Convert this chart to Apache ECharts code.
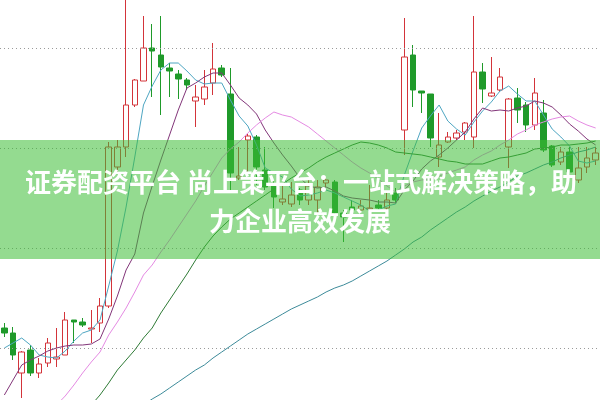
<!DOCTYPE html>
<html><head><meta charset="utf-8">
<script src="https://cdn.jsdelivr.net/npm/echarts@6/dist/echarts.min.js"></script>
<style>html,body{margin:0;padding:0;background:#fff}#c{width:600px;height:400px}</style>
</head><body><div id="c"></div>
<script>
const days = ['01','02','03','04','05','06','07','08','09','10','11','12','13','14','15','16','17','18','19','20','21','22','23','24','25','26','27','28','29','30','31','32','33','34','35','36','37','38','39','40','41','42','43','44','45','46','47','48','49','50','51','52','53','54','55','56','57','58','59','60','61','62','63','64','65','66','67','68','69'];
const openP  = [12.0,11.5,7.5,9.8,7.5,8.5,8.9,9.3,12.8,12.6,11.9,12.5,14.2,28.1,30.1,34.3,36.7,40.0,39.3,38.0,37.4,36.8,34.7,34.9,36.5,38.0,35.4,27.0,30.8,31.1,27.8,26.3,24.6,24.4,25.8,24.8,24.8,26.5,26.6,23.5,24.1,23.8,23.9,24.3,24.0,25.5,31.8,39.3,35.7,35.4,29.1,30.6,31.0,31.6,31.1,37.6,35.2,35.8,30.1,35.0,34.3,32.3,33.5,30.2,28.6,29.6,26.8,28.1,28.8];
const closeP = [11.5,9.3,9.6,7.5,8.4,10.5,9.1,12.8,12.6,12.3,12.0,14.2,30.1,30.1,34.3,36.8,40.0,39.7,38.1,37.7,36.9,36.3,35.1,36.1,37.9,37.3,27.5,27.2,31.2,28.1,26.1,25.1,24.9,25.3,24.8,26.2,26.1,26.8,23.5,23.1,23.8,24.2,24.0,24.0,24.8,24.8,39.1,35.8,35.5,31.0,30.3,31.1,31.5,32.5,37.6,35.9,35.5,37.1,34.9,33.8,32.3,35.5,29.8,28.3,29.6,27.6,28.0,29.0,29.5];
const lowP   = [11.1,8.8,5.0,7.2,7.0,8.1,8.1,9.3,10.5,12.1,10.5,11.6,14.0,27.6,29.1,34.1,36.7,35.1,33.3,35.1,34.9,35.8,32.1,34.3,35.3,37.1,25.5,26.8,27.6,26.3,25.8,24.0,24.3,24.1,24.3,24.3,23.5,26.1,23.1,20.6,22.3,23.5,23.5,23.6,23.8,24.5,29.3,34.1,33.5,30.1,28.1,30.5,30.8,30.8,30.0,34.5,35.1,35.6,28.0,32.5,31.6,31.8,29.6,28.1,28.3,27.3,26.5,27.5,28.3];
const highP  = [12.5,12.1,9.7,10.3,9.0,11.0,12.0,13.6,12.8,13.0,13.8,15.0,30.6,30.8,44.8,36.9,43.2,42.4,43.2,38.5,37.8,37.0,36.3,37.8,40.5,38.3,38.0,30.1,31.4,31.3,30.1,26.8,26.3,26.6,26.0,26.8,26.8,27.1,26.8,23.8,24.8,24.8,26.3,24.8,25.6,26.0,43.0,40.3,35.7,35.4,33.5,31.6,31.8,32.6,43.2,38.5,39.1,38.0,35.0,36.0,34.6,37.0,34.8,30.3,30.1,30.1,30.1,30.1,30.1];
const ma5  = [10.0,10.5,11.0,10.3,9.3,9.1,9.0,9.7,10.7,11.5,11.8,12.8,16.2,19.7,24.1,29.1,34.3,36.2,37.8,38.5,38.5,37.7,36.8,36.4,36.5,36.5,34.8,33.2,32.2,30.3,28.0,27.5,27.1,25.9,25.2,25.3,25.5,25.8,25.5,25.1,24.7,24.3,23.7,23.8,24.2,24.4,27.3,29.7,32.0,33.2,34.3,32.7,31.9,31.3,32.6,33.7,34.6,35.7,36.2,35.4,34.7,34.7,33.3,31.9,31.1,30.2,28.7,28.5,28.7];
const ma10 = [5.3,6.8,8.3,8.8,9.2,9.7,10.0,10.2,10.3,10.3,10.4,10.9,12.9,15.2,17.8,19.4,23.5,26.2,28.8,31.3,33.8,36.0,36.5,37.1,37.5,37.5,36.3,35.0,34.3,33.4,31.8,30.5,29.3,28.2,27.0,26.2,26.0,26.1,25.7,25.2,25.0,24.9,24.8,24.6,24.6,24.5,25.8,26.7,27.9,28.7,29.3,30.0,30.8,31.6,32.9,34.0,33.7,33.8,33.7,34.0,34.2,34.7,34.5,34.1,33.3,32.4,31.7,30.9,30.3];
const ma20 = [null,null,null,null,null,null,4.3,5.2,6.3,7.5,8.6,9.6,11.3,12.6,14.0,15.6,17.3,18.3,19.6,20.8,22.1,23.4,24.7,26.2,27.6,29.0,29.9,30.6,31.5,32.3,33.0,33.6,33.3,33.1,32.6,32.1,31.4,30.7,30.0,29.3,28.6,28.0,27.5,26.9,26.2,25.6,26.2,26.6,26.8,26.9,27.2,27.5,27.8,28.1,28.8,29.3,29.7,30.3,30.8,31.4,31.8,32.3,32.6,32.9,33.1,33.2,32.7,32.3,32.0];
const ma30 = [null,null,null,null,null,null,null,null,null,null,4.3,5.3,6.5,7.8,8.8,9.8,11.0,12.0,13.5,14.8,16.1,17.4,18.8,20.1,21.2,22.1,22.9,23.5,24.1,24.7,25.3,25.9,26.4,27.0,27.5,28.0,28.6,29.1,29.5,29.9,30.3,30.6,30.5,30.3,30.0,29.6,29.5,29.4,29.3,29.1,28.9,28.7,28.6,28.4,28.4,28.4,28.7,29.0,29.1,29.3,29.5,29.9,30.0,30.1,30.3,30.3,30.4,30.5,30.7];
const ma60 = [null,null,null,null,null,null,null,null,null,null,null,null,null,null,null,null,4.3,4.9,5.4,6.0,6.6,7.2,7.8,8.3,9.0,9.6,10.2,10.8,11.4,11.9,12.4,12.9,13.4,13.9,14.3,14.7,15.1,15.6,16.0,16.3,16.7,17.2,17.7,18.2,18.7,19.3,19.9,20.6,21.1,21.8,22.4,23.0,23.6,24.1,24.7,25.2,25.7,26.1,26.6,27.2,27.5,27.9,28.3,28.6,29.0,29.3,29.6,29.8,30.1];
const gridLevels = [10, 20, 30, 40];
const bannerLine1 = '证券配资平台 尚上策平台：一站式解决策略，助';
const bannerLine2 = '力企业高效发展';

const candles = openP.map((o, i) => [o, closeP[i], lowP[i], highP[i]]);
const chart = echarts.init(document.getElementById('c'), null, {renderer: 'canvas'});
function maSeries(name, data, color) {
  return {name, type: 'line', data, showSymbol: false, symbol: 'none', smooth: false,
    lineStyle: {width: 1, color}, itemStyle: {color}, silent: true, z: 3, animation: false};
}
chart.setOption({
  animation: false,
  backgroundColor: '#ffffff',
  grid: {left: -2.4, right: -1.35, top: 0, bottom: 0, containLabel: false},
  xAxis: {type: 'category', data: days, boundaryGap: true,
    axisLine: {show: false}, axisTick: {show: false}, axisLabel: {show: false}, splitLine: {show: false}},
  yAxis: {type: 'value', min: 4.8, max: 44.8, scale: true,
    axisLine: {show: false}, axisTick: {show: false}, axisLabel: {show: false}, splitLine: {show: false}},
  series: [
    {type: 'candlestick', data: candles, barWidth: 6, z: 2,
      itemStyle: {color: '#ffffff', color0: '#1f9a2a', borderColor: '#d3343a', borderColor0: '#1f9a2a', borderWidth: 1},
      markLine: {silent: true, symbol: ['none', 'none'], label: {show: false},
        lineStyle: {type: [1, 3], color: '#9a9a9a', width: 1},
        data: gridLevels.map(v => ({yAxis: v}))}
    },
    maSeries('MA5', ma5, '#4ea6c2'),
    maSeries('MA10', ma10, '#823579'),
    maSeries('MA20', ma20, '#e58ae3'),
    maSeries('MA30', ma30, '#2f7b36'),
    maSeries('MA60', ma60, '#3d8b9a')
  ],
  graphic: [
    {type: 'rect', z: 100, shape: {x: 0, y: 140, width: 600, height: 119},
      style: {fill: 'rgba(60,190,52,0.55)'}},
    {type: 'text', z: 101, x: 301, y: 182,
      style: {text: bannerLine1, fill: '#ffffff', font: 'bold 26px "Noto Sans CJK SC"', textAlign: 'center', textVerticalAlign: 'middle'}},
    {type: 'text', z: 101, x: 300, y: 221,
      style: {text: bannerLine2, fill: '#ffffff', font: 'bold 26px "Noto Sans CJK SC"', textAlign: 'center', textVerticalAlign: 'middle'}}
  ]
});
</script></body></html>
